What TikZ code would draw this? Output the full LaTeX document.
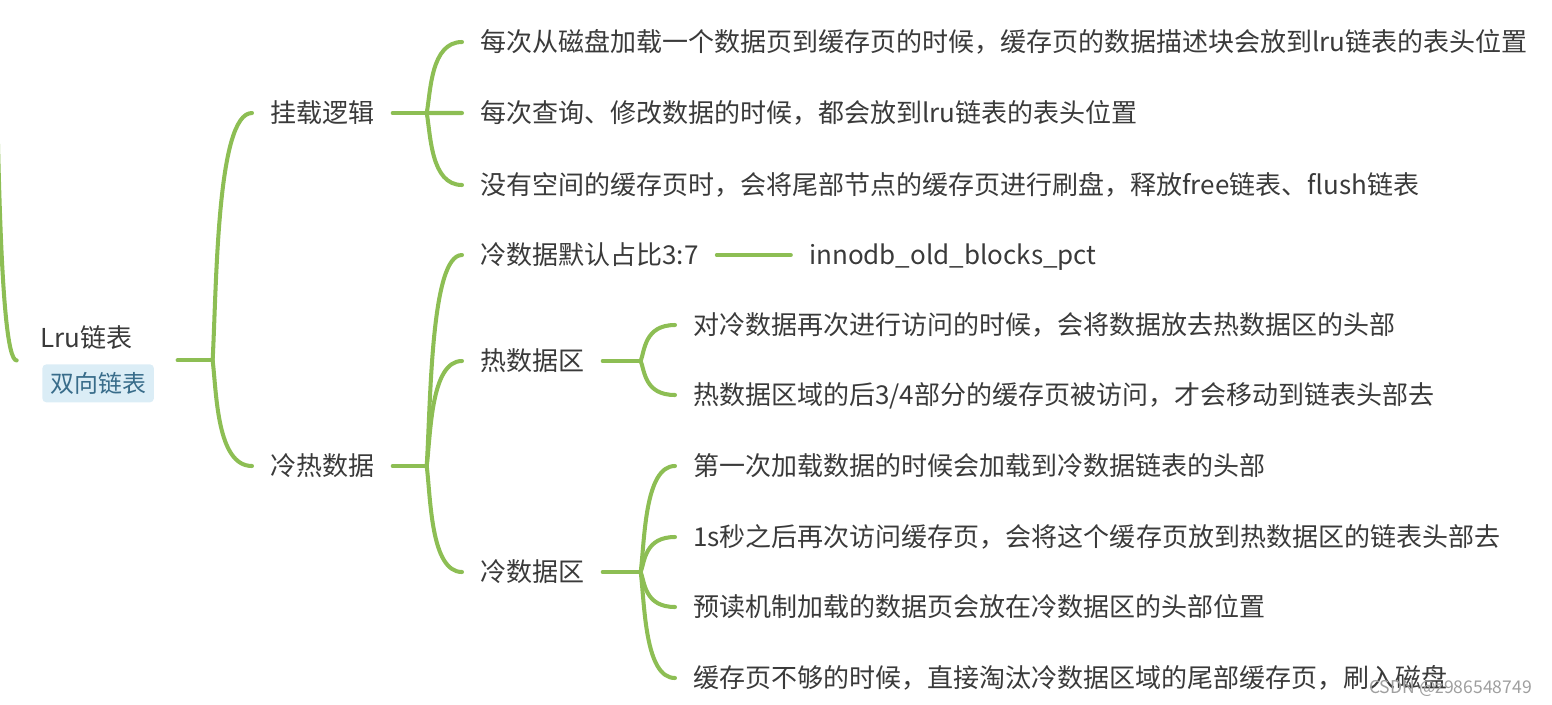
\documentclass[tikz,border=0pt]{standalone}
\usepackage{fontspec}
\setmainfont{Noto Sans CJK SC}
\usepackage{tikz}
\usetikzlibrary{positioning, calc, fit}
\definecolor{mygreen}{RGB}{141,190,84}
\definecolor{mytext}{RGB}{58,58,58}
\definecolor{mytag}{RGB}{219,237,246}
\definecolor{mytagtext}{RGB}{56,108,138}
\tikzstyle{topic} = [anchor=west, inner xsep=0.36cm, inner ysep=0pt, text=mytext, font=\fontsize{14.8pt}{17pt}\selectfont, text height=0.44cm, text depth=0.06cm]
\tikzstyle{tag} = [rectangle, rounded corners=0.08cm, anchor=north west, minimum height=0.76cm, inner xsep=0.16cm, fill=mytag, text=mytagtext, font=\fontsize{13.6pt}{16pt}\selectfont]
\tikzstyle{link} = [draw=mygreen, line width=2.3pt, line cap=round]
\tikzstyle{limb} = [link, to path={.. controls ($(\tikztostart)!0.3!(\tikztostart |- \tikztotarget)+(4,0)$) and ($(\tikztostart |- \tikztotarget)+(4,0)$) .. (\tikztotarget)}]

\begin{document}
\begin{tikzpicture}[x=0.02cm, y=-0.02cm]
    \useasboundingbox (0,0) rectangle (1552,704);
    % root with its tag
    \node (lru) [topic, inner xsep=0pt, inner ysep=0.14cm] at (40,338) {Lru链表};
    \node (tag) [tag] at (42,364) {双向链表};
    \node (root) [fit=(lru)(tag), inner xsep=0.46cm, inner ysep=0pt] {};
    \coordinate (up) at (-6,-30);
    \coordinate (j0) at ($(root.east)+(35,0)$);
    % first level
    \node (mount) [topic] at (252,113) {挂载逻辑};
    \node (temp) [topic] at (252,466) {冷热数据};
    \coordinate (j1) at ($(mount.east)+(34,0)$);
    \coordinate (j2) at ($(temp.east)+(34,0)$);
    % mount logic
    \node (m1) [topic] at (462,42) {每次从磁盘加载一个数据页到缓存页的时候，缓存页的数据描述块会放到lru链表的表头位置};
    \node (m2) [topic] at (462,113) {每次查询、修改数据的时候，都会放到lru链表的表头位置};
    \node (m3) [topic] at (462,185) {没有空间的缓存页时，会将尾部节点的缓存页进行刷盘，释放free链表、flush链表};
    % hot and cold data
    \node (ratio) [topic] at (462,255) {冷数据默认占比3:7};
    \node (param) [topic, right=1.48cm of ratio] {innodb\_old\_blocks\_pct};
    \node (hot) [topic] at (462,361) {热数据区};
    \node (cold) [topic] at (462,572) {冷数据区};
    \coordinate (j3) at ($(hot.east)+(38,0)$);
    \coordinate (j4) at ($(cold.east)+(38,0)$);
    \node (h1) [topic] at (675,325) {对冷数据再次进行访问的时候，会将数据放去热数据区的头部};
    \node (h2) [topic] at (675,395) {热数据区域的后3/4部分的缓存页被访问，才会移动到链表头部去};
    \node (c1) [topic] at (675,466) {第一次加载数据的时候会加载到冷数据链表的头部};
    \node (c2) [topic] at (675,537) {1s秒之后再次访问缓存页，会将这个缓存页放到热数据区的链表头部去};
    \node (c3) [topic] at (675,607) {预读机制加载的数据页会放在冷数据区的头部位置};
    \node (c4) [topic] at (675,678) {缓存页不够的时候，直接淘汰冷数据区域的尾部缓存页，刷入磁盘};
    \node (mark) [anchor=east, text=gray!75, font=\fontsize{10pt}{12pt}\selectfont] at (1538,688) {CSDN @z986548749};
    % connectors
    \draw[limb] (up) to (root.west);
    \draw[link] (root.east) -- (j0);
    \draw[limb] (j0) to (mount.west);
    \draw[limb] (j0) to (temp.west);
    \draw[link] (mount.east) -- (j1);
    \draw[limb] (j1) to (m1.west);
    \draw[limb] (j1) to (m2.west);
    \draw[limb] (j1) to (m3.west);
    \draw[link] (temp.east) -- (j2);
    \draw[limb] (j2) to (ratio.west);
    \draw[limb] (j2) to (hot.west);
    \draw[limb] (j2) to (cold.west);
    \draw[link] (ratio) -- (param);
    \draw[link] (hot.east) -- (j3);
    \draw[limb] (j3) to (h1.west);
    \draw[limb] (j3) to (h2.west);
    \draw[link] (cold.east) -- (j4);
    \draw[limb] (j4) to (c1.west);
    \draw[limb] (j4) to (c2.west);
    \draw[limb] (j4) to (c3.west);
    \draw[limb] (j4) to (c4.west);
\end{tikzpicture}
\end{document}
